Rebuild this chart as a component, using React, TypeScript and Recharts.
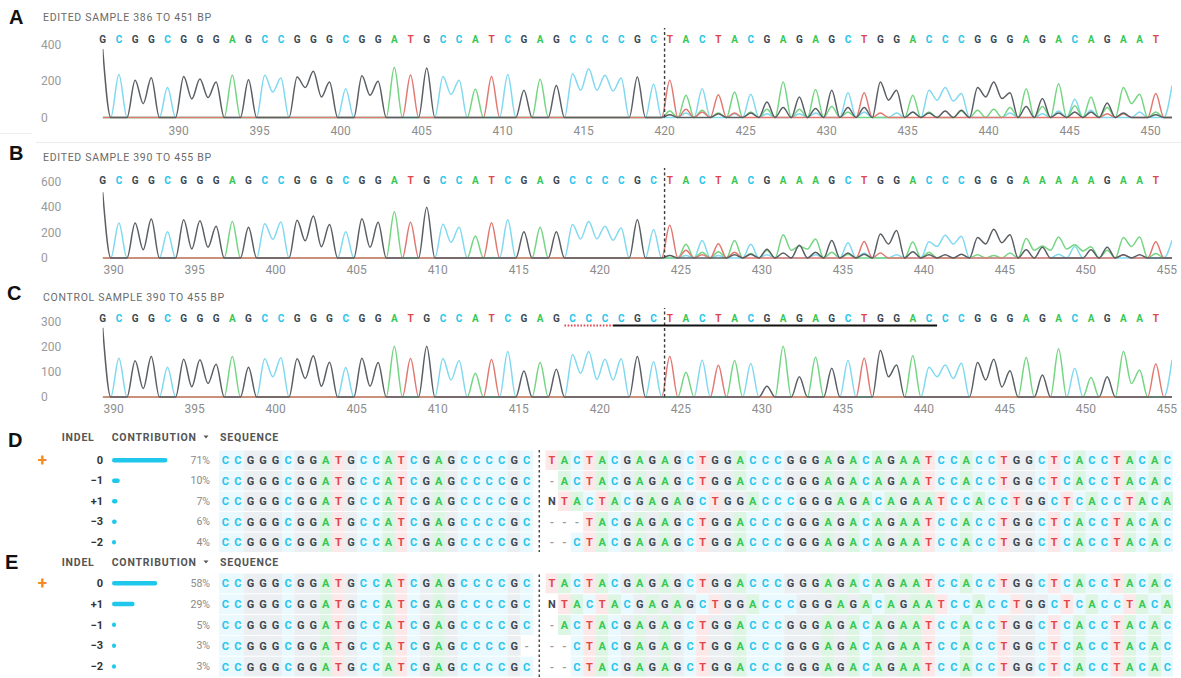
import React from 'react';
import { LineChart, Line, XAxis, YAxis, ReferenceLine, BarChart, Bar, ScatterChart, Scatter } from 'recharts';

type Base = 'A' | 'C' | 'G' | 'T';

const FONT = 'Roboto, "Liberation Sans", Arial, sans-serif';
const LETTER_OFFSET = -0.68;

const BASE_TEXT: Record<string, string> = { A: '#36c853', C: '#2ac5ea', G: '#3b4953', T: '#df464b', N: '#474747', '-': '#9a9a9a' };
const BASE_TRACE: Record<Base, string> = { A: '#74d582', C: '#80d9f0', G: '#5a5f64', T: '#e27872' };
const BASE_BG: Record<string, string> = { A: '#ddf5e3', C: '#e9f9fd', G: '#eceff1', T: '#fce8e8' };

// ---------- Panel A ----------
const titleA = 'EDITED SAMPLE 386 TO 451 BP';
const startA = 386;
const cutA = 420;
const seqA = 'GCGGCGGGAGCCGGGCGGATGCCATCGAGCCCCGCTACTACGAGAGCTGGACCCGGGAGACAGAAT';
const peaksA = [375, 236, 204, 218, 164, 225, 211, 195, 231, 207, 231, 216, 222, 253, 195, 158, 229, 198, 276, 233, 271, 225, 204, 156, 225, 236, 149, 209, 176, 240, 267, 231, 216, 222, 182,
  204, 122, 158, 125, 140, 127, 85, 195, 113, 153, 149, 135, 135, 195, 149, 122, 149, 164, 131, 164, 195, 135, 158, 104, 185, 100, 113, 80, 164, 127, 131];
const valleysA: [number, number][] = [[2, 76], [5, 102], [6, 109], [10, 140], [12, 164], [13, 113], [16, 122], [21, 127], [29, 149], [30, 149], [31, 145], [48, 95], [51, 95], [52, 90], [54, 113], [55, 104], [63, 76]];
const extrasA: [number, Base, number][] = [[35, 'A', 35], [35, 'G', 15], [36, 'T', 45], [36, 'C', 25], [37, 'A', 40], [37, 'T', 30], [38, 'A', 25], [38, 'G', 20], [39, 'T', 25], [39, 'C', 20], [40, 'G', 25], [40, 'A', 30], [41, 'A', 45], [41, 'C', 20], [42, 'G', 55], [43, 'A', 45], [43, 'C', 20], [44, 'G', 50], [44, 'C', 25], [45, 'A', 60], [46, 'G', 55], [46, 'A', 30], [47, 'G', 55], [47, 'C', 30], [48, 'T', 25], [49, 'C', 25], [50, 'G', 30], [50, 'C', 30], [51, 'G', 25], [51, 'A', 30], [52, 'G', 35], [53, 'G', 40], [53, 'A', 35], [54, 'A', 40], [55, 'A', 45], [56, 'A', 55], [56, 'C', 25], [57, 'G', 60], [58, 'A', 60], [58, 'C', 20], [59, 'G', 25], [59, 'C', 35], [60, 'A', 65], [60, 'G', 30], [61, 'C', 40], [61, 'G', 30], [62, 'A', 55], [62, 'T', 20], [63, 'G', 25], [63, 'T', 20], [64, 'C', 30], [65, 'A', 30], [65, 'G', 15], [66, 'C', 176]];
const xTicksA = [390, 395, 400, 405, 410, 415, 420, 425, 430, 435, 440, 445, 450];
const yTicksA = [0, 200, 400];

// ---------- Panel B ----------
const titleB = 'EDITED SAMPLE 390 TO 455 BP';
const startB = 390;
const cutB = 424;
const seqB = 'GCGGCGGGAGCCGGGCGGATGCCATCGAGCCCCGCTACTACGAAAGCTGGACCCGGGAAAAAGAAT';
const peaksB = [516, 274, 274, 305, 206, 300, 292, 249, 287, 241, 269, 282, 297, 330, 262, 206, 307, 280, 363, 280, 399, 264, 241, 173, 277, 300, 206, 241, 206, 262, 287, 249, 236, 300, 224,
  257, 107, 137, 112, 137, 107, 69, 183, 94, 150, 137, 119, 130, 188, 216, 125, 127, 178, 170, 160, 226, 183, 153, 94, 165, 104, 89, 84, 160, 165, 127];
const valleysB: [number, number][] = [[2, 64], [5, 71], [6, 84], [10, 147], [12, 135], [13, 89], [16, 84], [21, 122], [29, 150], [30, 150], [31, 140], [42, 60], [43, 70], [48, 110], [51, 90], [52, 110], [54, 110], [55, 120], [57, 60], [58, 60], [59, 70], [60, 55], [63, 90]];
const extrasB: [number, Base, number][] = [[35, 'G', 20], [36, 'T', 60], [36, 'C', 20], [37, 'A', 45], [37, 'T', 25], [38, 'A', 50], [38, 'C', 20], [39, 'T', 45], [39, 'G', 25], [40, 'G', 30], [40, 'A', 35], [41, 'A', 60], [41, 'C', 25], [42, 'G', 40], [43, 'G', 100], [44, 'G', 45], [44, 'C', 25], [45, 'A', 45], [46, 'G', 40], [46, 'A', 30], [47, 'C', 40], [47, 'G', 30], [48, 'T', 40], [49, 'C', 25], [50, 'G', 50], [51, 'A', 45], [51, 'G', 25], [52, 'G', 25], [53, 'G', 30], [54, 'A', 25], [55, 'A', 20], [56, 'A', 40], [57, 'G', 65], [58, 'G', 85], [59, 'C', 30], [60, 'C', 90], [61, 'G', 65], [62, 'A', 60], [63, 'G', 25], [63, 'T', 25], [64, 'G', 25], [65, 'A', 35], [66, 'C', 140]];
const xTicksB = [390, 395, 400, 405, 410, 415, 420, 425, 430, 435, 440, 445, 450, 455];
const yTicksB = [0, 200, 400, 600];

// ---------- Panel C ----------
const titleC = 'CONTROL SAMPLE 390 TO 455 BP';
const startC = 390;
const cutC = 424;
const seqC = 'GCGGCGGGAGCCGGGCGGATGCCATCGAGCCCCGCTACTACGAGAGCTGGACCCGGGAGACAGAAT';
const peaksC = [277, 155, 145, 162, 119, 151, 149, 131, 162, 119, 153, 157, 153, 165, 139, 118, 155, 138, 203, 154, 203, 154, 145, 95, 150, 182, 104, 138, 111, 169, 182, 151, 153, 162, 141,
  162, 99, 147, 127, 146, 134, 43, 203, 81, 159, 115, 146, 155, 186, 128, 165, 119, 128, 135, 138, 151, 105, 158, 88, 193, 115, 78, 81, 182, 108, 132];
const valleysC: [number, number][] = [[2, 34], [5, 41], [6, 54], [10, 81], [12, 74], [13, 43], [16, 43], [21, 68], [29, 95], [30, 70], [31, 68], [48, 81], [51, 81], [52, 74], [54, 68], [55, 40], [63, 54]];
const extrasC: [number, Base, number][] = [[66, 'C', 149]];
const xTicksC = [390, 395, 400, 405, 410, 415, 420, 425, 430, 435, 440, 445, 450, 455];
const yTicksC = [0, 100, 200, 300];
// PAM (red dotted) and guide (black) underline, in letter index units
const pamC = [28.5, 31.5];
const guideC = [31.5, 51.5];

// ---------- Tables ----------
const indelsD = ['0', '\u22121', '+1', '\u22123', '\u22122'];
const contribD = [71, 10, 7, 6, 4];
const leftD = ['CCGGGCGGATGCCATCGAGCCCCGC', 'CCGGGCGGATGCCATCGAGCCCCGC', 'CCGGGCGGATGCCATCGAGCCCCGC', 'CCGGGCGGATGCCATCGAGCCCCGC', 'CCGGGCGGATGCCATCGAGCCCCGC'];
const rightD = [
  'TACTACGAGAGCTGGACCCGGGAGACAGAATCCACCTGGCTCACCTACAC',
  '-ACTACGAGAGCTGGACCCGGGAGACAGAATCCACCTGGCTCACCTACAC',
  'NTACTACGAGAGCTGGACCCGGGAGACAGAATCCACCTGGCTCACCTACA',
  '---TACGAGAGCTGGACCCGGGAGACAGAATCCACCTGGCTCACCTACAC',
  '--CTACGAGAGCTGGACCCGGGAGACAGAATCCACCTGGCTCACCTACAC',
];
const indelsE = ['0', '+1', '\u22121', '\u22123', '\u22122'];
const contribE = [58, 29, 5, 3, 3];
const leftE = ['CCGGGCGGATGCCATCGAGCCCCGC', 'CCGGGCGGATGCCATCGAGCCCCGC', 'CCGGGCGGATGCCATCGAGCCCCGC', 'CCGGGCGGATGCCATCGAGCCCCG-', 'CCGGGCGGATGCCATCGAGCCCCGC'];
const rightE = [
  'TACTACGAGAGCTGGACCCGGGAGACAGAATCCACCTGGCTCACCTACAC',
  'NTACTACGAGAGCTGGACCCGGGAGACAGAATCCACCTGGCTCACCTACA',
  '-ACTACGAGAGCTGGACCCGGGAGACAGAATCCACCTGGCTCACCTACAC',
  '--CTACGAGAGCTGGACCCGGGAGACAGAATCCACCTGGCTCACCTACAC',
  '--CTACGAGAGCTGGACCCGGGAGACAGAATCCACCTGGCTCACCTACAC',
];

function buildTrace(seq: string, peaks: number[], valleys: [number, number][], extras: [number, Base, number][], first: number) {
  const n = seq.length + 1;
  const ch: Record<Base, number[]> = { A: new Array(n).fill(0), C: new Array(n).fill(0), G: new Array(n).fill(0), T: new Array(n).fill(0) };
  for (let i = 0; i < seq.length; i++) ch[seq[i] as Base][i] = peaks[i];
  for (const [i, b, h] of extras) ch[b][i] = h;
  const vmap = new Map(valleys);
  const rows: any[] = [];
  for (let i = 0; i < n; i++) {
    rows.push({ x: first + i, A: ch.A[i], C: ch.C[i], G: ch.G[i], T: ch.T[i] });
    if (i < n - 1) {
      const row: any = { x: first + i + 0.5, A: 0, C: 0, G: 0, T: 0 };
      const v = vmap.get(i);
      if (v !== undefined) row[seq[i]] = v;
      rows.push(row);
    }
  }
  return rows;
}

type ChromProps = {
  top: number; seq: string; peaks: number[]; valleys: [number, number][]; extras: [number, Base, number][];
  start: number; yMax: number; yTicks: number[]; xTicks: number[]; cut: number;
  plotTop: number; plotBottom: number; letterY: number; tickY: number;
  underlines?: { from: number; to: number; color: string; dash?: string }[];
};

function Chromatogram(p: ChromProps) {
  const H = 140;
  const first = p.start + LETTER_OFFSET;
  const data = buildTrace(p.seq, p.peaks, p.valleys, p.extras, first);
  const domain = [first, first + p.seq.length];
  const letterTicks = p.seq.split('').map((_, i) => first + i);
  const span = p.plotBottom - p.plotTop;
  const dashTop = (p.yMax * (p.plotBottom - 28)) / span;
  const underY = (p.yMax * (p.plotBottom - 45.5)) / span;
  return (
    <div style={{ position: 'absolute', left: 0, top: p.top }}>
      <LineChart width={1181} height={H} data={data} margin={{ top: p.plotTop - 14, right: 9, bottom: H - p.plotBottom - 20, left: 42.7 }}>
        <XAxis
          xAxisId="seq" orientation="top" type="number" dataKey="x" domain={domain} allowDataOverflow
          ticks={letterTicks} interval={0} axisLine={false} tickLine={false} height={14}
          tick={(t: any) => {
            const idx = Math.round(t.payload.value - first);
            const b = p.seq[idx] || '';
            return (
              <text x={t.x} y={p.letterY} textAnchor="middle" dominantBaseline="central" fontSize={10} fontWeight={700} fontFamily={FONT} fill={BASE_TEXT[b]}>{b}</text>
            );
          }}
        />
        <XAxis
          type="number" dataKey="x" domain={domain} allowDataOverflow ticks={p.xTicks} interval={0}
          axisLine={false} tickLine={false} height={20}
          tick={(t: any) => (
            <text x={t.x} y={p.tickY} textAnchor="middle" dominantBaseline="central" fontSize={12} fontFamily={FONT} fill="#8d8d8d">{t.payload.value}</text>
          )}
        />
        <YAxis
          type="number" domain={[0, p.yMax]} ticks={p.yTicks} interval={0} width={60} axisLine={false} tickLine={false}
          tick={(t: any) => (
            <text x={41} y={t.y} dominantBaseline="central" fontSize={12} fontFamily={FONT} fill="#9a9a9a">{t.payload.value}</text>
          )}
        />
        {(['C', 'A', 'T', 'G'] as Base[]).map((b) => (
          <Line key={b} dataKey={b} type="monotone" stroke={BASE_TRACE[b]} strokeWidth={1.5} strokeLinejoin="round" dot={false} isAnimationActive={false} />
        ))}
        <ReferenceLine segment={[{ x: p.cut, y: 0 }, { x: p.cut, y: dashTop }]} stroke="#3d3d3d" strokeWidth={1.4} strokeDasharray="3 2.5" ifOverflow="visible" />
        {(p.underlines || []).map((u, k) => (
          <ReferenceLine key={k} segment={[{ x: first + u.from, y: underY }, { x: first + u.to, y: underY }]} stroke={u.color} strokeWidth={2} strokeDasharray={u.dash} ifOverflow="visible" />
        ))}
      </LineChart>
    </div>
  );
}

const CELL_W = 12.56;

function IndelTable(p: { rowCenter0: number; rowH: number; indels: string[]; contrib: number[]; left: string[]; right: string[] }) {
  const H = p.rowH * 5;
  const top = p.rowCenter0 - p.rowH / 2;
  const barData = p.indels.map((ind, i) => ({ indel: ind, pct: p.contrib[i] }));
  const cells: any[] = [];
  p.left.forEach((s, r) => s.split('').forEach((b, j) => cells.push({ col: j, row: r, b })));
  p.right.forEach((s, r) => s.split('').forEach((b, j) => cells.push({ col: 26 + j, row: r, b })));
  const cellH = p.rowH - 1;
  return (
    <>
      <div style={{ position: 'absolute', left: 0, top }}>
        <BarChart layout="vertical" width={220} height={H} data={barData} margin={{ top: 0, right: 30, bottom: 0, left: 0 }} barCategoryGap={0}>
          <XAxis type="number" domain={[0, 100]} hide />
          <YAxis
            type="category" dataKey="indel" width={112} interval={0} axisLine={false} tickLine={false}
            tick={(t: any) => {
              const i = p.indels.indexOf(t.payload.value);
              return (
                <g>
                  <text x={103} y={t.y} textAnchor="end" dominantBaseline="central" fontSize={11} fontWeight={700} fontFamily={FONT} fill="#333">{t.payload.value}</text>
                  <text x={210} y={t.y} textAnchor="end" dominantBaseline="central" fontSize={10.5} fontFamily={FONT} fill="#8a8a8a">{p.contrib[i]}%</text>
                </g>
              );
            }}
          />
          <Bar dataKey="pct" fill="#1fc8ea" barSize={4.5} radius={2.25} minPointSize={4} isAnimationActive={false} />
        </BarChart>
      </div>
      <div style={{ position: 'absolute', left: 225 - CELL_W / 2, top }}>
        <ScatterChart width={CELL_W * 76} height={H} margin={{ top: 0, right: 0, bottom: 0, left: 0 }}>
          <XAxis type="number" dataKey="col" domain={[-0.5, 75.5]} hide />
          <YAxis type="number" dataKey="row" domain={[-0.5, 4.5]} reversed hide />
          <Scatter
            data={cells} isAnimationActive={false}
            shape={(s: any) => {
              const b = s.payload.b;
              return (
                <g>
                  {BASE_BG[b] && <rect x={s.cx - CELL_W / 2} y={s.cy - cellH / 2} width={CELL_W + 0.3} height={cellH} fill={BASE_BG[b]} />}
                  <text x={s.cx} y={s.cy + 0.5} textAnchor="middle" dominantBaseline="central" fontSize={11} fontWeight={700} fontFamily={FONT} fill={BASE_TEXT[b]}>{b}</text>
                </g>
              );
            }}
          />
          <ReferenceLine x={25} stroke="#4a4a4a" strokeWidth={1.5} strokeDasharray="2.5 2.5" />
        </ScatterChart>
      </div>
    </>
  );
}

const panelLabel = (t: string, x: number, y: number) => (
  <text x={x} y={y} dominantBaseline="central" fontSize={20} fontWeight={700} fontFamily='"Liberation Sans", Arial, sans-serif' fill="#111">{t}</text>
);
const titleText = (t: string, y: number) => (
  <text x={43} y={y} dominantBaseline="central" fontSize={10.5} fontFamily={FONT} fill="#6b6b6b" style={{ letterSpacing: '0.7px' }}>{t}</text>
);
const header = (y: number) => (
  <g fontSize={10.5} fontWeight={700} fontFamily={FONT} fill="#555" style={{ letterSpacing: '0.8px' }}>
    <text x={61.7} y={y} dominantBaseline="central">INDEL</text>
    <text x={111.7} y={y} dominantBaseline="central">CONTRIBUTION</text>
    <path d={`M ${203.5} ${y - 1.5} L ${208.5} ${y - 1.5} L ${206} ${y + 1.5} Z`} fill="#555" />
    <text x={220} y={y} dominantBaseline="central">SEQUENCE</text>
  </g>
);
const plus = (y: number) => (
  <text x={42.5} y={y} textAnchor="middle" dominantBaseline="central" fontSize={17} fontWeight={700} fontFamily={FONT} fill="#f5891f">+</text>
);

export default function App() {
  return (
    <div style={{ position: 'absolute', left: 0, top: 0, width: 1181, height: 678, background: '#fff', overflow: 'hidden' }}>
      <svg width={1181} height={678} style={{ position: 'absolute', left: 0, top: 0 }}>
        <line x1={36} y1={142.5} x2={1181} y2={142.5} stroke="#ececec" />
        <line x1={0} y1={133.5} x2={32} y2={133.5} stroke="#ececec" />
        {panelLabel('A', 9, 17)}
        {panelLabel('B', 9, 153)}
        {panelLabel('C', 7, 293)}
        {panelLabel('D', 8, 440)}
        {panelLabel('E', 5, 562)}
        {titleText(titleA, 17)}
        {titleText(titleB, 157)}
        {titleText(titleC, 297)}
        {header(437)}
        {header(562)}
        {plus(460)}
        {plus(583)}
      </svg>
      <Chromatogram top={0} seq={seqA} peaks={peaksA} valleys={valleysA} extras={extrasA} start={startA} yMax={400} yTicks={yTicksA} xTicks={xTicksA} cut={cutA} plotTop={44.5} plotBottom={117.5} letterY={39} tickY={131} />
      <Chromatogram top={140} seq={seqB} peaks={peaksB} valleys={valleysB} extras={extrasB} start={startB} yMax={600} yTicks={yTicksB} xTicks={xTicksB} cut={cutB} plotTop={41.5} plotBottom={118} letterY={40} tickY={130} />
      <Chromatogram top={280} seq={seqC} peaks={peaksC} valleys={valleysC} extras={extrasC} start={startC} yMax={300} yTicks={yTicksC} xTicks={xTicksC} cut={cutC} plotTop={42} plotBottom={117} letterY={38} tickY={129}
        underlines={[{ from: pamC[0], to: pamC[1], color: '#e0474c', dash: '1.6 1.6' }, { from: guideC[0], to: guideC[1], color: '#111' }]} />
      <IndelTable rowCenter0={460} rowH={20.5} indels={indelsD} contrib={contribD} left={leftD} right={rightD} />
      <IndelTable rowCenter0={583} rowH={20.8} indels={indelsE} contrib={contribE} left={leftE} right={rightE} />
    </div>
  );
}
